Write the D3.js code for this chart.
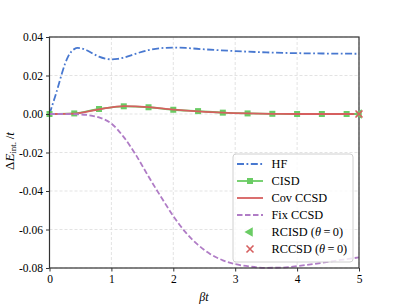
<!DOCTYPE html>
<html>
<head>
<meta charset="utf-8">
<script src="https://cdn.jsdelivr.net/npm/d3@7"></script>
<style>
  body { margin: 0; background: #fff; }
  svg { display: block; font-family: "Liberation Serif", "DejaVu Serif", serif; }
</style>
</head>
<body>
<svg id="chart"></svg>
<script>
// values
var xTicks = [0, 1, 2, 3, 4, 5];
var yTicks = [0.04, 0.02, 0.00, -0.02, -0.04, -0.06, -0.08];

var hfT = [0, 0.05, 0.1, 0.15, 0.2, 0.25, 0.3, 0.35, 0.4, 0.45, 0.5, 0.6, 0.7, 0.8, 0.9, 1.0, 1.1, 1.2, 1.4, 1.6, 1.8, 2.0, 2.2, 2.5, 3.0, 3.5, 4.0, 4.5, 5.0];
var hfE = [0, 0.0050, 0.0100, 0.0155, 0.0210, 0.0260, 0.0298, 0.0323, 0.0337, 0.0343, 0.0342, 0.0331, 0.0314, 0.0298, 0.0288, 0.0284, 0.0286, 0.0293, 0.0314, 0.0332, 0.0342, 0.0345, 0.0343, 0.0336, 0.0327, 0.0320, 0.0316, 0.0314, 0.0313];

var cisdT = [0, 0.4, 0.8, 1.2, 1.6, 2.0, 2.4, 2.8, 3.2, 3.6, 4.0, 4.4, 4.8];
var cisdE = [0, 0.0003, 0.0026, 0.0040, 0.0035, 0.0022, 0.0015, 0.0007, 0.0003, 0.0001, 0.0000, 0.0000, 0.0000];

var covT = [0, 0.4, 0.8, 1.2, 1.6, 2.0, 2.4, 2.8, 3.2, 3.6, 4.0, 4.4, 4.8, 5.0];
var covE = [0, 0.0002, 0.0024, 0.0041, 0.0036, 0.0023, 0.0014, 0.0007, 0.0003, 0.0001, 0.0000, 0.0000, 0.0000, 0.0000];

var fixT = [0, 0.2, 0.4, 0.6, 0.8, 1.0, 1.2, 1.4, 1.6, 1.8, 2.0, 2.2, 2.4, 2.6, 2.8, 3.0, 3.25, 3.5, 3.75, 4.0, 4.25, 4.5, 4.75, 5.0];
var fixE = [0, 0, -0.0001, -0.0005, -0.0018, -0.0050, -0.0120, -0.0215, -0.0325, -0.0430, -0.0530, -0.0615, -0.0680, -0.0728, -0.0760, -0.0780, -0.0793, -0.0799, -0.0798, -0.0790, -0.0780, -0.0768, -0.0756, -0.0745];

var rcisd = [[5, 0]];
var rccsd = [[5, 0]];

var width = 399, height = 307,
  margin = {top: 37, right: 40, bottom: 39, left: 49.5},
  serif = "Liberation Serif, DejaVu Serif, serif";

var svg = d3.select("#chart")
  .attr("width", width)
  .attr("height", height);

var x = d3.scaleLinear().domain([0, 5]).range([margin.left, width - margin.right]);
var y = d3.scaleLinear().domain([-0.08, 0.04]).range([height - margin.bottom, margin.top]);

function zip(a, b) {
  return a.map(function (v, i) { return [v, b[i]]; });
}

// grid
svg.append("g").selectAll("line.gx")
  .data(xTicks).enter().append("line")
  .attr("x1", function (d) { return x(d); })
  .attr("x2", function (d) { return x(d); })
  .attr("y1", y(0.04)).attr("y2", y(-0.08))
  .attr("stroke", "#dcdcdc").attr("stroke-width", 0.8)
  .attr("stroke-dasharray", "3,2");
svg.append("g").selectAll("line.gy")
  .data(yTicks).enter().append("line")
  .attr("y1", function (d) { return y(d); })
  .attr("y2", function (d) { return y(d); })
  .attr("x1", x(0)).attr("x2", x(5))
  .attr("stroke", "#dcdcdc").attr("stroke-width", 0.8)
  .attr("stroke-dasharray", "3,2");

var line = d3.line()
  .x(function (d) { return x(d[0]); })
  .y(function (d) { return y(d[1]); })
  .curve(d3.curveMonotoneX);

var plot = svg.append("g");

plot.append("path")
  .attr("d", line(zip(hfT, hfE)))
  .attr("fill", "none").attr("stroke", "#4878d0").attr("stroke-width", 1.8)
  .attr("stroke-dasharray", "7,2.5,1.8,2.5");

plot.append("path")
  .attr("d", line(zip(cisdT, cisdE)))
  .attr("fill", "none").attr("stroke", "#6acc64").attr("stroke-width", 1.8);
plot.selectAll("rect.cisd")
  .data(zip(cisdT, cisdE)).enter().append("rect")
  .attr("x", function (d) { return x(d[0]) - 3; })
  .attr("y", function (d) { return y(d[1]) - 3; })
  .attr("width", 6).attr("height", 6)
  .attr("fill", "#6acc64");

plot.append("path")
  .attr("d", line(zip(covT, covE)))
  .attr("fill", "none").attr("stroke", "#d65f5f").attr("stroke-width", 1.8);

plot.append("path")
  .attr("d", line(zip(fixT, fixE)))
  .attr("fill", "none").attr("stroke", "#b07cc6").attr("stroke-width", 1.8)
  .attr("stroke-dasharray", "5.5,2.5");

// axes
var xAxis = d3.axisBottom(x).tickValues(xTicks).tickSize(3.5).tickPadding(3)
  .tickFormat(d3.format("d"));
var yAxis = d3.axisLeft(y).tickValues(yTicks).tickSize(3.5).tickPadding(3)
  .tickFormat(function (d) { return d3.format(".2f")(d).replace("−", "-"); });

var gx = svg.append("g").attr("transform", "translate(0," + y(-0.08) + ")").call(xAxis);
var gy = svg.append("g").attr("transform", "translate(" + x(0) + ",0)").call(yAxis);
[gx, gy].forEach(function (g) {
  g.attr("font-family", serif).attr("font-size", 11.5);
  g.select(".domain").remove();
  g.selectAll("line").attr("stroke", "#333").attr("stroke-width", 1);
  g.selectAll("text").attr("fill", "#000");
});

// frame
svg.append("rect")
  .attr("x", x(0)).attr("y", y(0.04))
  .attr("width", x(5) - x(0)).attr("height", y(-0.08) - y(0.04))
  .attr("fill", "none").attr("stroke", "#333").attr("stroke-width", 1.2);

// points at t = 5, not clipped
svg.selectAll("path.rcisd")
  .data(rcisd).enter().append("path")
  .attr("d", d3.symbol(d3.symbolTriangle, 40)())
  .attr("transform", function (d) { return "translate(" + x(d[0]) + "," + y(d[1]) + ") rotate(-90)"; })
  .attr("fill", "#6acc64");
svg.selectAll("path.rccsd")
  .data(rccsd).enter().append("path")
  .attr("d", "M-3.5,-3.5L3.5,3.5M-3.5,3.5L3.5,-3.5")
  .attr("transform", function (d) { return "translate(" + x(d[0]) + "," + y(d[1]) + ")"; })
  .attr("stroke", "#d65f5f").attr("stroke-width", 1.6).attr("fill", "none");

// axis labels
svg.append("text")
  .attr("x", 204).attr("y", 301)
  .attr("text-anchor", "middle")
  .attr("font-family", serif).attr("font-size", 12).attr("font-style", "italic")
  .text("βt");

var yl = svg.append("text")
  .attr("transform", "translate(13.5,151) rotate(-90)")
  .attr("text-anchor", "middle")
  .attr("font-family", serif).attr("font-size", 13);
yl.append("tspan").text("Δ");
yl.append("tspan").attr("font-style", "italic").text("E");
yl.append("tspan").attr("dy", 2.8).attr("font-size", 9).text("int.");
yl.append("tspan").attr("dy", -2.8).text("\u2009/");
yl.append("tspan").attr("font-style", "italic").text("t");

// legend
var legendItems = [
  {label: "HF", color: "#4878d0", type: "line", dash: "7,2.5,1.8,2.5"},
  {label: "CISD", color: "#6acc64", type: "square"},
  {label: "Cov CCSD", color: "#d65f5f", type: "line", dash: null},
  {label: "Fix CCSD", color: "#b07cc6", type: "line", dash: "5.5,2.5"},
  {label: "RCISD", color: "#6acc64", type: "tri", theta: true},
  {label: "RCCSD", color: "#d65f5f", type: "x", theta: true}
];

var lg = svg.append("g").attr("transform", "translate(233,154)");
lg.append("rect")
  .attr("width", 120).attr("height", 108).attr("rx", 3)
  .attr("fill", "#fff").attr("fill-opacity", 0.8)
  .attr("stroke", "#d0d0d0").attr("stroke-width", 1);

var li = lg.selectAll("g.item").data(legendItems).enter().append("g")
  .attr("transform", function (d, i) { return "translate(0," + (10 + i * 17) + ")"; });

li.filter(function (d) { return d.type === "line" || d.type === "square"; })
  .append("line")
  .attr("x1", 4).attr("x2", 30).attr("y1", 0).attr("y2", 0)
  .attr("stroke", function (d) { return d.color; }).attr("stroke-width", 1.8)
  .attr("stroke-dasharray", function (d) { return d.dash; });
li.filter(function (d) { return d.type === "square"; })
  .append("rect")
  .attr("x", 14).attr("y", -3).attr("width", 6).attr("height", 6)
  .attr("fill", function (d) { return d.color; });
li.filter(function (d) { return d.type === "tri"; })
  .append("path")
  .attr("d", d3.symbol(d3.symbolTriangle, 40)())
  .attr("transform", "translate(17,0) rotate(-90)")
  .attr("fill", function (d) { return d.color; });
li.filter(function (d) { return d.type === "x"; })
  .append("path")
  .attr("d", "M-3.5,-3.5L3.5,3.5M-3.5,3.5L3.5,-3.5")
  .attr("transform", "translate(17,0)")
  .attr("stroke", function (d) { return d.color; }).attr("stroke-width", 1.6);

var lt = li.append("text")
  .attr("x", 38.5).attr("y", 4.2)
  .attr("font-family", serif).attr("font-size", 12.3).attr("fill", "#000")
  .text(function (d) { return d.label; });
lt.filter(function (d) { return d.theta; }).each(function () {
  var t = d3.select(this);
  t.append("tspan").text(" (");
  t.append("tspan").attr("font-style", "italic").text("θ");
  t.append("tspan").text("\u2009=\u20090)");
});
</script>
</body>
</html>
